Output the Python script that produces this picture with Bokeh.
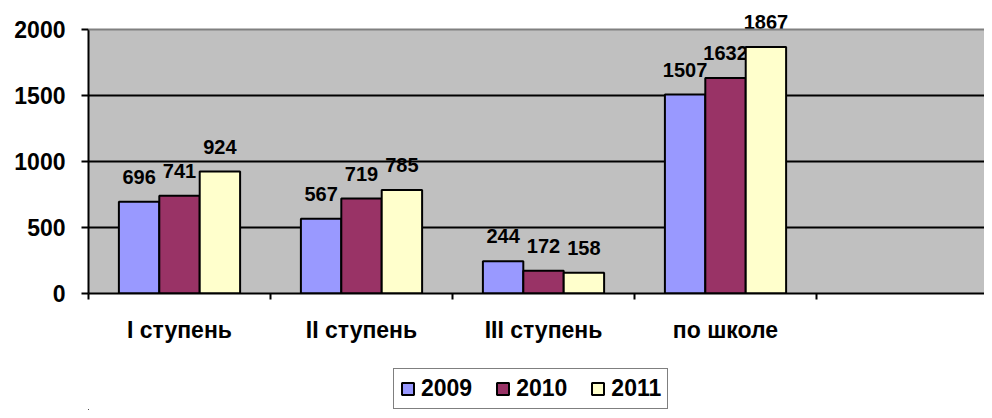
from bokeh.plotting import figure
from bokeh.layouts import column
from bokeh.models import (Range1d, FixedTicker, Legend, LegendItem, Span,
                          ColumnDataSource, BoxAnnotation)
from bokeh.embed import file_html
from bokeh.resources import INLINE
from bokeh.core.properties import value

# ---- data ----
categories = ["I ступень", "II ступень", "III ступень", "по школе"]
years = ["2009", "2010", "2011"]
v2009 = [696, 567, 244, 1507]
v2010 = [741, 719, 172, 1632]
v2011 = [924, 785, 158, 1867]
y_ticks = [0, 500, 1000, 1500, 2000]
colors = ["#9999FF", "#993366", "#FFFFCC"]

series = [v2009, v2010, v2011]
n_slots = len(categories) + 1  # Excel-like empty trailing slot
bar_w = 0.222
offsets = [-bar_w, 0.0, bar_w]
FONT = "Liberation Sans"
Y_HEADROOM = 2204.5  # extra room above the plot area for the top value label

p = figure(width=984, height=350, output_backend="svg", toolbar_location=None,
           x_range=Range1d(0, n_slots - 0.077), y_range=Range1d(y_ticks[0], Y_HEADROOM),
           min_border_left=88, min_border_right=0, min_border_top=2, min_border_bottom=57)

p.background_fill_color = "white"
p.border_fill_color = "white"
p.outline_line_color = None

# grey plot area (0 .. 2000)
p.add_layout(BoxAnnotation(bottom=y_ticks[0], top=y_ticks[-1], fill_color="#C0C0C0",
                           fill_alpha=1, line_color=None, level="image"))

sources = []
for vals, off, col in zip(series, offsets, colors):
    xs = [i + 0.5 + off for i in range(len(categories))]
    src = ColumnDataSource(dict(x=xs, top=vals, lab=[str(v) for v in vals]))
    sources.append(src)
    p.vbar(x="x", top="top", width=bar_w, source=src, fill_color=col,
           line_color="black", line_width=2)
    p.text(x="x", y="top", text="lab", source=src, text_align="center",
           text_baseline="alphabetic", y_offset=-25,
           text_font=value(FONT), text_font_style="bold", text_font_size="20px",
           text_color="black")

# grid
p.xgrid.visible = False
p.ygrid.ticker = FixedTicker(ticks=y_ticks[1:-1])
p.ygrid.grid_line_color = "black"
p.ygrid.grid_line_width = 2
p.add_layout(Span(location=y_ticks[-1], dimension="width", line_color="#808080", line_width=2))

# y axis
p.yaxis.ticker = FixedTicker(ticks=y_ticks)
p.yaxis.bounds = (y_ticks[0], y_ticks[-1])
p.yaxis.axis_line_color = "black"
p.yaxis.axis_line_width = 2
p.yaxis.major_tick_out = 7
p.yaxis.major_tick_in = 0
p.yaxis.major_tick_line_width = 2
p.yaxis.minor_tick_line_color = None
p.yaxis.major_label_standoff = 16
p.yaxis.major_label_text_font = FONT
p.yaxis.major_label_text_font_style = "bold"
p.yaxis.major_label_text_font_size = "23px"
p.yaxis.major_label_text_color = "black"

# x axis
centers = [i + 0.5 for i in range(len(categories))]
p.xaxis.ticker = FixedTicker(ticks=centers, minor_ticks=list(range(n_slots)))
p.xaxis.major_label_overrides = {c: lab for c, lab in zip(centers, categories)}
p.xaxis.axis_line_color = "black"
p.xaxis.axis_line_width = 2
p.xaxis.major_tick_out = 0
p.xaxis.major_tick_in = 0
p.xaxis.minor_tick_out = 6
p.xaxis.minor_tick_in = 0
p.xaxis.minor_tick_line_color = "black"
p.xaxis.minor_tick_line_width = 2
p.xaxis.major_label_standoff = 17
p.xaxis.major_label_text_font = FONT
p.xaxis.major_label_text_font_style = "bold"
p.xaxis.major_label_text_font_size = "23px"
p.xaxis.major_label_text_color = "black"

# ---- legend strip (separate figure so the legend is not clipped) ----
lg = figure(width=984, height=60, output_backend="svg", toolbar_location=None,
            x_range=Range1d(20, 21), y_range=Range1d(10000, 20000),
            x_axis_location=None, y_axis_location=None,
            min_border_left=0, min_border_right=0, min_border_top=0, min_border_bottom=0)
lg.grid.visible = False
lg.outline_line_color = None
lg.background_fill_color = "white"
lg.border_fill_color = "white"

items = []
for src, col, yr in zip(sources, colors, years):
    r = lg.vbar(x="x", top="top", width=bar_w, source=src, fill_color=col,
                line_color="black", line_width=2)
    items.append(LegendItem(label=yr, renderers=[r]))

# white cover above glyph level (hides any stray glyph pixels, legend draws on top)
lg.add_layout(BoxAnnotation(fill_color="white", fill_alpha=1, line_color=None, level="guide"))

legend = Legend(items=items, orientation="horizontal", location=(305, 1),
                glyph_width=15, glyph_height=15, label_standoff=6, spacing=23,
                padding=6, margin=0,
                border_line_color="black", border_line_width=1.5,
                background_fill_color="white", background_fill_alpha=1,
                label_text_font=FONT, label_text_font_style="bold",
                label_text_font_size="23px", label_text_color="black")
lg.add_layout(legend)

layout = column(p, lg, spacing=0)
open("out.html", "w").write(file_html(layout, INLINE))
